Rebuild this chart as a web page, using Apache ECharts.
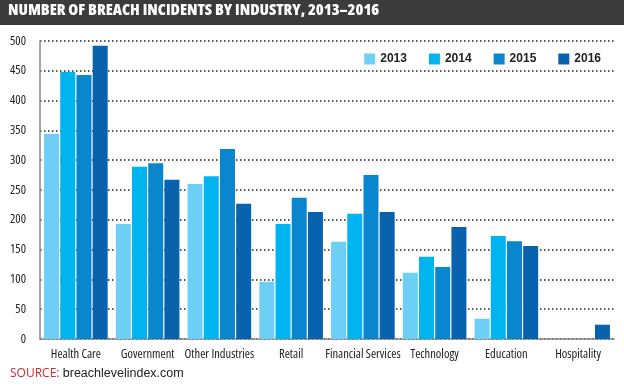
<!DOCTYPE html>
<html><head><meta charset="utf-8">
<script src="https://cdn.jsdelivr.net/npm/echarts@6/dist/echarts.min.js"></script>
<style>html,body{margin:0;padding:0;background:#fff}#c{width:624px;height:390px}</style>
</head><body><div id="c"></div>
<script>
var categories = ['Health Care','Government','Other Industries','Retail','Financial Services','Technology','Education','Hospitality'];
var years = ['2013','2014','2015','2016'];
var v2013 = [344, 193, 260, 96, 163, 111, 34, null];
var v2014 = [448, 289, 273, 193, 210, 138, 173, null];
var v2015 = [443, 295, 319, 237, 275, 121, 164, null];
var v2016 = [492, 267, 227, 213, 213, 188, 156, 24];
var yTicks = [0, 50, 100, 150, 200, 250, 300, 350, 400, 450, 500];
var colors = ['#6dcff6', '#00b4ef', '#0a86cf', '#0862ae'];
var seriesData = [v2013, v2014, v2015, v2016];

var chart = echarts.init(document.getElementById('c'));
var cond = '"Open Sans", sans-serif';
chart.setOption({
  animation: false,
  color: colors,
  graphic: [
    {type: 'rect', left: 0, top: 0, shape: {width: 624, height: 25}, style: {fill: '#3b3b3b'}, z: 0},
    {type: 'text', left: 8, top: 2, style: {text: 'NUMBER OF BREACH INCIDENTS BY INDUSTRY, 2013\u20132016', fill: '#fff', font: 'condensed 800 16px "Open Sans", sans-serif'}},
    {type: 'text', left: 10, top: 367, style: {rich: {
      a: {fill: '#d7282f', font: '12px "Open Sans", sans-serif'},
      b: {fill: '#222', font: '12.5px "Liberation Sans", Arial, sans-serif'}
    }, text: '{a|SOURCE:} {b|breachlevelindex.com}'}}
  ],
  legend: {
    data: years, right: 18, top: 48, itemWidth: 11, itemHeight: 11, itemGap: 22,
    icon: 'rect',
    textStyle: {fontSize: 12, fontWeight: 'bold', color: '#222', fontFamily: '"Liberation Sans", Arial, sans-serif'}
  },
  grid: {left: 40, right: 10, top: 41, bottom: 51},
  xAxis: {
    type: 'category', data: categories,
    axisLine: {lineStyle: {color: '#888', width: 1.5}},
    axisTick: {show: false},
    axisLabel: {color: '#222', fontSize: 12.5, fontStyle: 'condensed', margin: 9, fontFamily: cond, interval: 0}
  },
  yAxis: {
    type: 'value', min: 0, max: 500, interval: 50,
    axisLine: {show: true, lineStyle: {color: '#888', width: 1.5}},
    axisTick: {show: false},
    axisLabel: {color: '#222', fontSize: 12.5, fontStyle: 'condensed', margin: 14, fontFamily: cond,
      formatter: function (v) { return yTicks.indexOf(v) >= 0 ? String(v) : ''; }},
    splitLine: {lineStyle: {color: '#222', width: 1.5, type: [1.5, 2.5]}}
  },
  series: years.map(function (y, i) {
    return {name: y, type: 'bar', data: seriesData[i], barWidth: 15, barGap: '8%', itemStyle: {color: colors[i]}};
  })
});
</script></body></html>
